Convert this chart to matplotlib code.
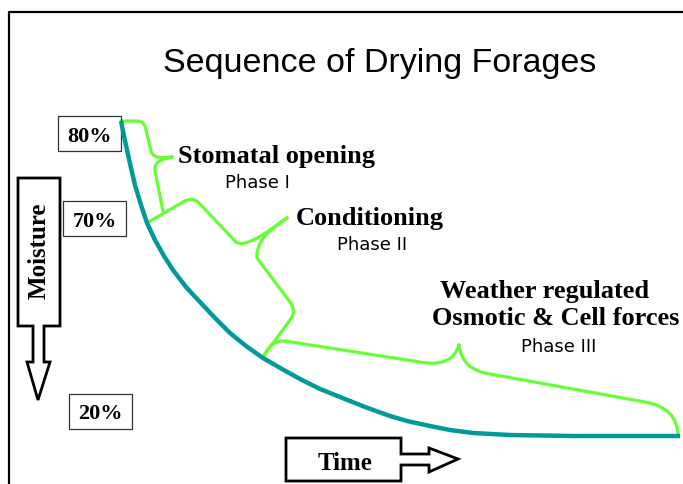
import matplotlib
matplotlib.use("Agg")
import matplotlib.pyplot as plt
from matplotlib.path import Path
from matplotlib.patches import PathPatch, Polygon, Rectangle

# drying curve (pixel space, y grows downwards)
curve_x = [121, 124, 127, 131, 135, 141, 147, 155, 164, 173, 186, 200, 215, 230, 246, 263,
           282, 300, 320, 340, 365, 390, 407, 430, 450, 473, 510, 573, 630, 680]
curve_y = [121, 136, 150, 168, 185, 205, 223, 240, 256, 270, 287, 302, 318, 333, 346, 358,
           369, 379, 389, 397, 407, 416, 421, 426, 430, 433, 435, 436, 436, 436]

# brace outlines: M=moveto, L=lineto, Q=quadratic (ctrl, end)
brace_1 = [("M", (121, 121)), ("L", (137, 121)), ("Q", (145, 121), (146, 130)),
           ("L", (151, 151)), ("Q", (153, 160), (172, 157)),
           ("M", (172, 157)), ("Q", (153, 160), (155, 171)), ("L", (163, 211))]
brace_2 = [("M", (147, 223)), ("L", (183, 202)), ("Q", (192, 196), (199, 203)),
           ("L", (236, 242)), ("Q", (245, 250), (287, 218)),
           ("M", (287, 218)), ("Q", (255, 238), (257, 258)), ("L", (290, 302)),
           ("Q", (297, 311), (290, 320)), ("L", (263, 357))]
brace_3 = [("M", (263, 358)), ("Q", (270, 340), (285, 341)), ("L", (420, 362)),
           ("Q", (452, 368), (459, 345)),
           ("M", (459, 345)), ("Q", (462, 370), (490, 374)), ("L", (645, 402)),
           ("Q", (678, 408), (678, 436))]

phase_titles = ["Stomatal opening", "Conditioning", "Weather regulated", "Osmotic & Cell forces"]
phase_names = ["Phase I", "Phase II", "Phase III"]
moisture_labels = ["80%", "70%", "20%"]

teal = "#009a9a"
green = "#66ff33"
serif = "Liberation Serif"


def brace_path(spec):
    verts, codes = [], []
    for item in spec:
        if item[0] == "M":
            verts.append(item[1]); codes.append(Path.MOVETO)
        elif item[0] == "L":
            verts.append(item[1]); codes.append(Path.LINETO)
        else:
            verts += [item[1], item[2]]; codes += [Path.CURVE3, Path.CURVE3]
    return Path(verts, codes)


fig = plt.figure(figsize=(6.83, 4.84), dpi=100)
ax = fig.add_axes([0, 0, 1, 1])
ax.set_xlim(0, 683)
ax.set_ylim(484, 0)
ax.axis("off")

# slide frame
ax.plot([9, 9, 684], [484, 12, 12], color="black", lw=1.6)

ax.text(380, 72, "Sequence of Drying Forages", family="Liberation Sans", fontsize=24.5,
        ha="center", va="baseline")

for spec in [brace_1, brace_2, brace_3]:
    ax.add_patch(PathPatch(brace_path(spec), fill=False, edgecolor=green, lw=2.3,
                           capstyle="round", joinstyle="round"))
ax.plot(curve_x, curve_y, color=teal, lw=3.2, solid_capstyle="butt", solid_joinstyle="round")

# phase labels
title_pos = [(276, 163), (370, 225), (545, 298), (556, 325)]
name_pos = [(257, 188), (372, 250), (559, 352)]
for (tx, ty), t in zip(title_pos, phase_titles):
    ax.text(tx, ty, t, family=serif, weight="bold", fontsize=19, ha="center", va="baseline")
for (tx, ty), t in zip(name_pos, phase_names):
    ax.text(tx, ty, t, family="DejaVu Sans", fontsize=13, ha="center", va="baseline")

# moisture boxes
boxes = [(58, 116), (63, 201), (69, 394)]
base = [142, 227, 419]
for (bx, by), lab, yb in zip(boxes, moisture_labels, base):
    ax.add_patch(Rectangle((bx, by), 63, 35, fill=False, edgecolor="#333333", lw=0.9))
    ax.text(bx + 31.5, yb, lab, family=serif, weight="bold", fontsize=16, ha="center", va="baseline")

# block arrows
moist_arrow = [(18, 178), (60, 178), (60, 326), (44, 326), (44, 362), (50, 362), (38, 400),
               (27, 362), (33, 362), (33, 326), (18, 326)]
time_arrow = [(286, 438), (401, 438), (401, 454), (429, 454), (429, 448), (458, 459),
              (429, 472), (429, 465), (401, 465), (401, 481), (286, 481)]
ax.add_patch(Polygon(moist_arrow, closed=True, fill=False, edgecolor="black", lw=2))
ax.add_patch(Polygon(time_arrow, closed=True, fill=False, edgecolor="black", lw=2))
ax.text(39, 251, "Moisture", family=serif, weight="bold", fontsize=18, rotation=90,
        ha="center", va="center")
ax.text(345, 470, "Time", family=serif, weight="bold", fontsize=18, ha="center", va="baseline")

fig.savefig("out.png", dpi=100)
